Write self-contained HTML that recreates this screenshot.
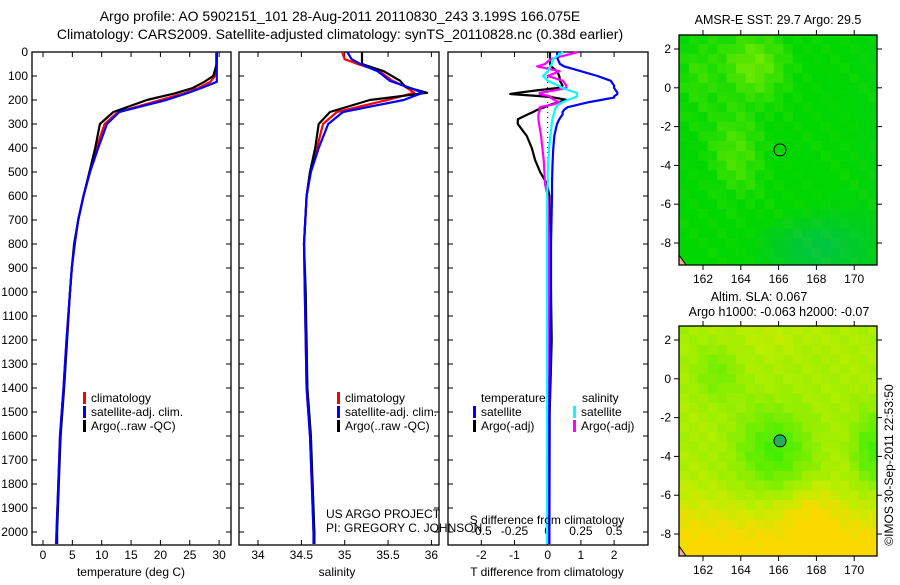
<!DOCTYPE html>
<html><head><meta charset="utf-8"><style>
body{margin:0;background:#fff;}
svg text{font-family:"Liberation Sans",sans-serif;font-size:12px;fill:#000;}
</style></head><body>
<svg id="s" width="900" height="580" viewBox="0 0 900 580" xmlns="http://www.w3.org/2000/svg">
<text x="340" y="21" text-anchor="middle" style="font-size:14px">Argo profile: AO 5902151_101 28-Aug-2011 20110830_243 3.199S 166.075E</text>
<text x="340" y="39" text-anchor="middle" style="font-size:14px">Climatology: CARS2009. Satellite-adjusted climatology: synTS_20110828.nc (0.38d earlier)</text>
<g id="g"></g>
</svg>
<script>
// ---- data ----
const tDepth=[0,50,100,124,150,172,200,250,300,400,500,600,700,800,900,1000,1200,1400,1600,1800,2000,2050];
const tClim=[29.5,29.5,29.3,28.5,26.5,24,20,12.8,10.5,9.1,8.0,6.9,6.0,5.4,4.9,4.6,4.0,3.5,2.9,2.6,2.3,2.2];
const tSat=[29.6,29.6,29.6,29.6,27,24.5,21,13,10.9,9.4,8.0,6.9,6.0,5.4,4.9,4.6,4.0,3.5,2.9,2.6,2.3,2.3];
const tArgo=[29.6,29.6,29.0,27.5,25.5,22.5,17.7,12,9.7,8.9,7.9,6.9,6.0,5.3,4.9,4.6,4.1,3.6,3.0,2.7,2.4,2.4];
const sDepth=[0,30,50,80,120,145,170,200,250,300,400,500,600,800,1000,1400,1600,1800,2000,2050];
const sClim=[34.97,35.0,35.15,35.4,35.55,35.7,35.8,35.49,34.91,34.75,34.68,34.6,34.56,34.53,34.54,34.56,34.6,34.62,34.64,34.65];
const sSat=[35.03,35.08,35.18,35.38,35.52,35.72,35.9,35.68,34.98,34.81,34.7,34.61,34.56,34.53,34.54,34.56,34.6,34.62,34.64,34.64];
const sArgo=[35.2,35.2,35.2,35.45,35.64,35.7,35.95,35.29,34.83,34.7,34.66,34.6,34.56,34.53,34.55,34.57,34.61,34.63,34.65,34.65];
const dDepth=[0,30,50,60,80,100,120,140,150,160,170,175,185,190,200,210,220,230,240,250,260,280,300,350,400,450,500,550,600,800,1000,1200,1500,2000,2050];
const dTSat=[0.28,0.3,0.37,0.5,1.0,1.5,1.9,2.0,2.0,2.05,2.1,2.1,2.0,2.0,1.6,1.2,0.9,0.6,0.5,0.45,0.45,0.35,0.28,0.2,0.17,0.15,0.14,0.13,0.13,0.1,0.1,0.08,0.05,0.05,0.05];
const dTArgo=[0.07,0.07,0.07,0.1,0.28,0.35,0.37,0.45,0.3,-0.33,-0.9,-1.13,-0.14,0.2,0.58,0.3,0.07,-0.1,-0.3,-0.44,-0.6,-0.9,-0.9,-0.63,-0.48,-0.38,-0.23,-0.02,0.05,0.05,0.1,0.12,0.06,0.05,0.05];
const dSSat=[0.115,0.04,0.03,0.02,0.0,-0.035,0.0,0.08,0.11,0.16,0.22,0.22,0.22,0.2,0.15,0.11,0.08,0.06,0.055,0.05,0.045,0.035,0.03,0.02,0.01,0.005,0.0,0.0,-0.005,-0.005,-0.005,-0.005,-0.005,-0.005,-0.005];
const dSArgo=[0.23,0.02,-0.02,-0.08,0.09,0.0,0.115,0.14,0.14,0.05,-0.06,-0.06,0.02,0.02,0.05,0.09,0.03,-0.06,-0.06,-0.065,-0.07,-0.07,-0.065,-0.05,-0.04,-0.03,-0.025,-0.02,0.0,0.01,0.01,0.01,0.01,0.01,0.01];
const depthTicks=[0,100,200,300,400,500,600,700,800,900,1000,1100,1200,1300,1400,1500,1600,1700,1800,1900,2000];
const tTicks=[0,5,10,15,20,25,30];
const sTicks=[34,34.5,35,35.5,36];
const sTickLabels=["34","34.5","35","35.5","36"];
const dtTicks=[-2,-1,0,1,2];
const dsTicks=[-0.5,-0.25,0,0.25,0.5];
const dsTickLabels=["-0.5","-0.25","0","0.25","0.5"];
const lonTicks=[162,164,166,168,170];
const latTicks=[2,0,-2,-4,-6,-8];

// ---- helpers ----
const NS="http://www.w3.org/2000/svg";
const G=document.getElementById('g');
function mk(tag,attrs,parent){const e=document.createElementNS(NS,tag);for(const k in attrs)e.setAttribute(k,attrs[k]);(parent||G).appendChild(e);return e;}
function txt(x,y,s,anchor,parent){const e=mk('text',{x:x,y:y,'text-anchor':anchor||'start'},parent);e.textContent=s;return e;}
const Y0=52,Y1=545;
const yD=d=>Y0+d*0.24;

const P=[{x0:32,x1:231},{x0:239,x1:439},{x0:448,x1:648}];
const xT=t=>43+t*5.87;
const xS=s=>258+(s-34)*86.7;
const xDT=v=>547.7+v*33.2;
const xDS=v=>547.7+v*132.8;

P.forEach((p,i)=>{
  const r=mk('rect',{x:p.x0,y:Y0,width:p.x1-p.x0,height:Y1-Y0,fill:'none',stroke:'#000','stroke-width':1.3});
  
  
  depthTicks.forEach(d=>{
    mk('line',{x1:p.x0,x2:p.x0+5,y1:yD(d),y2:yD(d),stroke:'#000'});
    mk('line',{x1:p.x1-5,x2:p.x1,y1:yD(d),y2:yD(d),stroke:'#000'});
  });
});
depthTicks.forEach(d=>{const t=txt(28,yD(d)+4,String(d),'end');
  
  });

function xticks(arr,labels,fx,ly,top,bottom){
  arr.forEach((v,i)=>{const x=fx(v);
    if(top)mk('line',{x1:x,x2:x,y1:Y0,y2:Y0+5,stroke:'#000'});
    if(bottom)mk('line',{x1:x,x2:x,y1:Y1-5,y2:Y1,stroke:'#000'});
    if(ly){const t=txt(x,ly,labels[i],'middle');
      
      }
  });
}
xticks(tTicks,tTicks.map(String),xT,559,true,true);
xticks(sTicks,sTickLabels,xS,559,true,true);
xticks(dtTicks,dtTicks.map(String),xDT,559,false,true);
xticks(dsTicks,dsTickLabels,xDS,535,true,false);

function line(depths,vals,fx,color,name,w){
  const pts=depths.map((d,i)=>fx(vals[i]).toFixed(1)+','+yD(d).toFixed(1)).join(' ');
  const e=mk('polyline',{points:pts,fill:'none',stroke:color,'stroke-width':w||2.2,'stroke-linejoin':'round'});
  
  
}
line(tDepth,tClim,xT,'#ff0000','temp-climatology-line');
line(tDepth,tArgo,xT,'#000000','temp-argo-line');
line(tDepth,tSat,xT,'#0000ff','temp-satellite-line');
line(sDepth,sClim,xS,'#ff0000','sal-climatology-line');
line(sDepth,sArgo,xS,'#000000','sal-argo-line');
line(sDepth,sSat,xS,'#0000ff','sal-satellite-line');
mk('line',{x1:xDT(0),x2:xDT(0),y1:Y0,y2:Y1,stroke:'#000','stroke-dasharray':'1,4'});
line(dDepth,dTArgo,xDT,'#000000','tdiff-argo-line');
line(dDepth,dSArgo,xDS,'#ff00ff','sdiff-argo-line');
line(dDepth,dTSat,xDT,'#0000ff','tdiff-satellite-line');
line(dDepth,dSSat,xDS,'#00ffff','sdiff-satellite-line');

function leg(x,y,c,s){mk('rect',{x:x,y:y-10,width:3,height:12,fill:c});const t=txt(x+8,y,s);
  
  }
leg(83,402,'#ff0000','climatology');leg(83,416,'#0000ff','satellite-adj. clim.');leg(83,430,'#000','Argo(..raw -QC)');
leg(337,402,'#ff0000','climatology');leg(337,416,'#0000ff','satellite-adj. clim.');leg(337,430,'#000','Argo(..raw -QC)');
txt(481,402,'temperature');leg(473,416,'#0000ff','satellite');leg(473,430,'#000','Argo(-adj)');
txt(582,402,'salinity');leg(573,416,'#00ffff','satellite');leg(573,430,'#ff00ff','Argo(-adj)');
txt(326,518,'US ARGO PROJECT');txt(326,532,'PI: GREGORY C. JOHNSON');
txt(547,524,'S difference from climatology','middle');
const a1=txt(131,576,'temperature (deg C)','middle');
const a2=txt(337,576,'salinity','middle');
const a3=txt(547,576,'T difference from climatology','middle');

// maps
function mapPanel(top,kind,name){
  const L=679,R=877,B=top+230;
  const lonX=lo=>703+(lo-162)*18.9;
  const latY=la=>top+14+(2-la)*19.4;
  const g=mk('g',{});
  
  
  for(let i=0;i<21;i++)for(let j=0;j<24;j++){
    const lo=160.75+i*0.5, la=2.75-j*0.5;
    const x=Math.max(L,lonX(lo)), x2=Math.min(R,lonX(lo+0.5));
    const y=latY(la), y2=Math.min(B,latY(la-0.5));
    let c;
    const h=((i*73+j*37)%11)/11;
    if(kind==1){
      let f=0.7*Math.exp(-((lo-164.5)**2/3+(la-1.5)**2/3))+0.5*Math.exp(-((lo-163.5)**2/2+(la+3)**2/6))+0.35*Math.exp(-((lo-161.5)**2/1+(la-1)**2/4))+0.25*h-0.15;
      const teal=Math.max(0,Math.exp(-((lo-167.5)**2/8+(la+8)**2/3))*0.8+0.3*Math.max(0,(lo-167)/4)-0.15);
      f=Math.max(0,Math.min(1,f));
      c=`rgb(${Math.round(f*150)},${Math.round(215+f*25-teal*25)},${Math.round(teal*90)})`;
    } else {
      let f=0.55+0.45*Math.exp(-((la+9)**2)/8)+0.12*h-0.5*Math.exp(-((lo-165.5)**2/4+(la+3.5)**2/5))-0.5*Math.exp(-((lo-170.7)**2/1+(la+3.5)**2/4))-0.25*Math.exp(-((lo-162.5)**2/1.5+(la-0.5)**2/2))+0.2*Math.exp(-((lo-167.5)**2/2+(la+6.5)**2/2))+0.1*Math.exp(-((lo-165.5)**2/3+(la-2.5)**2/1));
      f=Math.max(0,Math.min(1,f));
      c=`rgb(${Math.round(50+f*200)},${Math.round(238-Math.max(0,f-0.7)*70)},0)`;
    }
    mk('rect',{x:x,y:y,width:Math.max(0,x2-x)+0.3,height:Math.max(0,y2-y)+0.3,fill:c},g);
  }
  if(kind==2)mk('circle',{cx:lonX(166.075),cy:latY(-3.199),r:6,fill:'#20b060',stroke:'none'},g);
  mk('circle',{cx:lonX(166.075),cy:latY(-3.199),r:6,fill:'none',stroke:'#000'},g);
  mk('polygon',{points:`${L},${B-10} ${L+7},${B} ${L},${B}`,fill:'#f0b090',stroke:'#000'},g);
  mk('rect',{x:L,y:top,width:R-L,height:B-top,fill:'none',stroke:'#000','stroke-width':1.3},g);
  lonTicks.forEach(lo=>{const x=lonX(lo);mk('line',{x1:x,x2:x,y1:top-5,y2:top,stroke:'#000'},g);mk('line',{x1:x,x2:x,y1:B,y2:B+5,stroke:'#000'},g);txt(x,B+18,String(lo),'middle',g);});
  latTicks.forEach(la=>{const y=latY(la);mk('line',{x1:L-5,x2:L,y1:y,y2:y,stroke:'#000'},g);mk('line',{x1:R,x2:R+5,y1:y,y2:y,stroke:'#000'},g);txt(L-8,y+4,String(la),'end',g);});
}
mapPanel(35,1,'sst-map');
mapPanel(326,2,'sla-map');
txt(778,24,'AMSR-E SST: 29.7  Argo: 29.5','middle').setAttribute('style','font-size:12.5px');
txt(759,301,'Altim. SLA: 0.067','middle').setAttribute('style','font-size:12.5px');
txt(779,316,'Argo h1000: -0.063 h2000: -0.07','middle').setAttribute('style','font-size:12.5px');
const cr=txt(0,0,'©IMOS 30-Sep-2011 22:53:50','middle');
cr.setAttribute('transform','translate(893,465) rotate(-90)');


</script>
</body></html>
